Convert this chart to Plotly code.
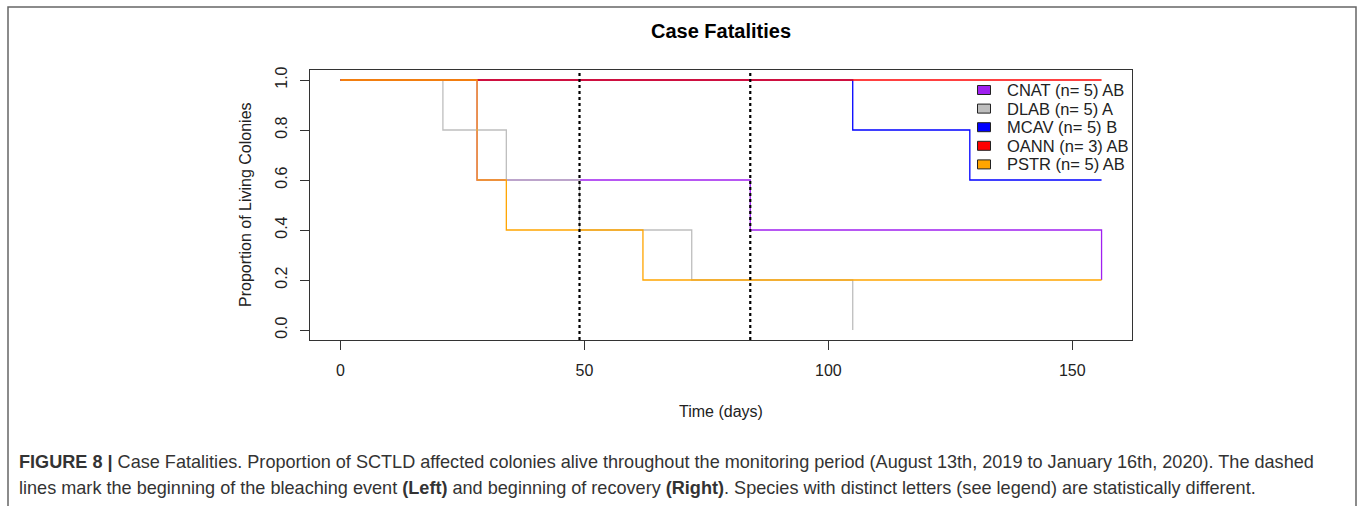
import plotly.graph_objects as go

# ---------------- data ----------------
species = ["CNAT", "DLAB", "MCAV", "OANN", "PSTR"]
legend_labels = ["CNAT (n= 5) AB", "DLAB (n= 5) A", "MCAV (n= 5) B", "OANN (n= 3) AB", "PSTR (n= 5) AB"]
colors = ["#A020F0", "#BEBEBE", "#0000FF", "#FF0000", "#FFA500"]

cnat_days = [0, 28, 84, 156]
cnat_surv = [1.0, 0.6, 0.4, 0.2]
dlab_days = [0, 21, 34, 49, 72, 105]
dlab_surv = [1.0, 0.8, 0.6, 0.4, 0.2, 0.0]
mcav_days = [0, 105, 129, 156]
mcav_surv = [1.0, 0.8, 0.6, 0.6]
oann_days = [0, 156]
oann_surv = [1.0, 1.0]
pstr_days = [0, 28, 34, 62, 156]
pstr_surv = [1.0, 0.6, 0.4, 0.2, 0.2]

event_days = [49, 84]  # beginning of bleaching, beginning of recovery

x_ticks = [0, 50, 100, 150]
y_ticks = [0.0, 0.2, 0.4, 0.6, 0.8, 1.0]

title_text = "Case Fatalities"
x_title = "Time (days)"
y_title = "Proportion of Living Colonies"
caption_line1 = ("<b>FIGURE 8 |</b> Case Fatalities. Proportion of SCTLD affected colonies alive throughout the "
                 "monitoring period (August 13th, 2019 to January 16th, 2020). The dashed")
caption_line2 = ("lines mark the beginning of the bleaching event <b>(Left)</b> and beginning of recovery "
                 "<b>(Right)</b>. Species with distinct letters (see legend) are statistically different.")

# ---------------- layout geometry (pixels) ----------------
W, H = 1363, 506
PL, PR, PT, PB = 310, 1132, 70, 340


def px(xp):
    return (xp - PL) / (PR - PL)


def py(yp):
    return (PB - yp) / (PB - PT)


FONT = "Liberation Sans, Arial, sans-serif"

series = [
    (cnat_days, cnat_surv),
    (dlab_days, dlab_surv),
    (mcav_days, mcav_surv),
    (oann_days, oann_surv),
    (pstr_days, pstr_surv),
]

fig = go.Figure()
for name, col, (d, s) in zip(species, colors, series):
    fig.add_trace(go.Scatter(
        x=d, y=s, mode="lines", name=name,
        line=dict(color=col, width=1.3, shape="hv"),
        showlegend=False, hoverinfo="x+y+name",
    ))

shapes = []
for ed in event_days:
    shapes.append(dict(type="line", xref="x", yref="y domain", x0=ed, x1=ed, y0=0, y1=1,
                       line=dict(color="black", width=2.2, dash="3px,3px"), layer="above"))

# manual legend (filled boxes like base R legend)
leg_box_cx = 984
leg_text_x = 1005
leg_row_y0 = 90
leg_row_dy = 18.6
annotations = []
for i, (lab, col) in enumerate(zip(legend_labels, colors)):
    cy = leg_row_y0 + i * leg_row_dy
    shapes.append(dict(type="rect", xref="paper", yref="paper",
                       x0=px(leg_box_cx - 6.5), x1=px(leg_box_cx + 6.5),
                       y0=py(cy + 4.5), y1=py(cy - 4.5),
                       fillcolor=col, line=dict(color="#222222", width=1)))
    annotations.append(dict(xref="paper", yref="paper", x=px(leg_text_x), y=py(cy),
                            xanchor="left", yanchor="middle", text=lab, showarrow=False,
                            font=dict(family=FONT, size=16.5, color="#222222")))

# outer frame of the figure panel (open at the bottom, continues past the picture)
shapes.append(dict(type="rect", xref="paper", yref="paper",
                   x0=px(8), x1=px(1356), y0=py(540), y1=py(7),
                   line=dict(color="#666666", width=1.5), fillcolor="rgba(0,0,0,0)", layer="below"))

# title
annotations.append(dict(xref="paper", yref="paper", x=px(720.5), y=py(31), xanchor="center", yanchor="middle",
                        text="<b>" + title_text + "</b>", showarrow=False,
                        font=dict(family=FONT, size=20, color="black")))
# axis titles
annotations.append(dict(xref="paper", yref="paper", x=px(721), y=py(411), xanchor="center", yanchor="middle",
                        text=x_title, showarrow=False, font=dict(family=FONT, size=16, color="#222222")))
annotations.append(dict(xref="paper", yref="paper", x=px(245), y=py(205), xanchor="center", yanchor="middle",
                        text=y_title, textangle=-90, showarrow=False,
                        font=dict(family=FONT, size=16, color="#222222")))
# caption
annotations.append(dict(xref="paper", yref="paper", x=px(17), y=py(462), xanchor="left", yanchor="middle",
                        text=caption_line1, showarrow=False, align="left",
                        font=dict(family=FONT, size=18.1, color="#333333")))
annotations.append(dict(xref="paper", yref="paper", x=px(17), y=py(488), xanchor="left", yanchor="middle",
                        text=caption_line2, showarrow=False, align="left",
                        font=dict(family=FONT, size=18.1, color="#333333")))

axis_common = dict(showgrid=False, zeroline=False, showline=True, linecolor="#333333", linewidth=1.2,
                   mirror=True, ticks="outside", ticklen=9, tickwidth=1.2, tickcolor="#333333",
                   tickfont=dict(family=FONT, size=16, color="#222222"))

fig.update_layout(
    width=W, height=H,
    margin=dict(l=PL, r=W - PR, t=PT, b=H - PB, autoexpand=False),
    paper_bgcolor="white", plot_bgcolor="white",
    xaxis=dict(range=[-6.24, 162.24], tickvals=x_ticks, ticktext=[str(v) for v in x_ticks],
               ticklabelstandoff=7, **axis_common),
    yaxis=dict(range=[-0.04, 1.04], tickvals=y_ticks, ticktext=["%.1f" % v for v in y_ticks],
               tickangle=-90, ticklabelstandoff=7, **axis_common),
    shapes=shapes,
    annotations=annotations,
    showlegend=False,
)

fig.write_html(
    "out.html",
    config={"displayModeBar": False},
    post_script="document.body.style.margin='0';document.body.style.overflow='hidden';",
)
